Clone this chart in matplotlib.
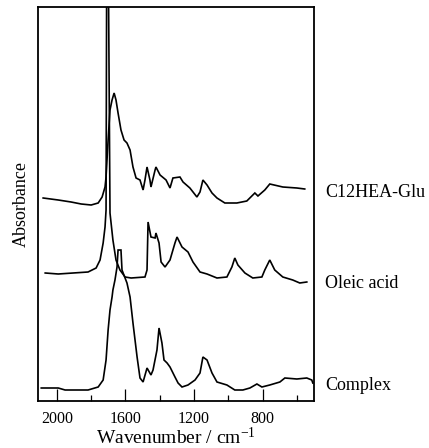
import matplotlib
matplotlib.use("Agg")
import matplotlib.pyplot as plt
import matplotlib.transforms as mtransforms
from matplotlib.ticker import FixedLocator

plt.rcParams['font.family'] = ['Liberation Serif', 'DejaVu Serif']
plt.rcParams['mathtext.fontset'] = 'custom'
plt.rcParams['mathtext.rm'] = 'Liberation Serif'
plt.rcParams['mathtext.default'] = 'regular'

# ---- data (wavenumber / cm-1, absorbance in arbitrary offset units) ----
c12_wn = [2080, 1992, 1917, 1858, 1800, 1759, 1736, 1719, 1713, 1701, 1690, 1678,
          1666, 1655, 1643, 1626, 1608, 1591, 1573, 1556, 1538, 1515, 1497, 1486,
          1474, 1457, 1451, 1427, 1422, 1398, 1363, 1340, 1323, 1282, 1264, 1224,
          1183, 1165, 1148, 1124, 1095, 1066, 1020, 950, 892, 845, 827, 787, 758,
          682, 600, 554]
c12_ab = [203, 201, 199, 197, 196, 198, 204, 214, 224, 261, 291, 301,
          308, 301, 288, 271, 261, 258, 251, 234, 223, 221, 211, 221,
          234, 221, 214, 231, 234, 226, 221, 213, 223, 224, 219, 213,
          204, 209, 221, 216, 208, 203, 198, 198, 200, 208, 205, 211, 217,
          214, 213, 212]

oleic_wn = [2068, 1992, 1818, 1771, 1748, 1730, 1719, 1713, 1708, 1703, 1690, 1673,
            1655, 1632, 1602, 1567, 1486, 1474, 1468, 1451, 1427, 1422, 1404, 1392,
            1369, 1340, 1311, 1299, 1270, 1235, 1206, 1165, 1124, 1066, 1008, 979,
            962, 944, 903, 857, 804, 787, 758, 729, 682, 624, 583, 542]
oleic_ab = [128, 127, 129, 133, 141, 158, 174, 191, 520, 520, 188, 161,
            141, 131, 124, 123, 124, 131, 179, 164, 163, 168, 158, 139,
            134, 141, 158, 164, 154, 149, 139, 129, 127, 123, 124, 134,
            143, 136, 128, 123, 124, 131, 141, 131, 124, 121, 118, 119]

complex_wn = [2091, 1992, 1952, 1818, 1759, 1730, 1713, 1701, 1690, 1678, 1673, 1661,
              1649, 1643, 1626, 1620, 1591, 1573, 1556, 1532, 1515, 1497, 1474, 1451,
              1439, 1416, 1404, 1387, 1375, 1357, 1340, 1311, 1293, 1270, 1235, 1194,
              1165, 1148, 1124, 1095, 1066, 1008, 962, 915, 874, 833, 804, 758, 699,
              670, 600, 542, 513, 507]
complex_ab = [13, 13, 11, 11, 14, 21, 41, 71, 91, 104, 111, 121,
              134, 151, 151, 131, 118, 104, 78, 44, 23, 19, 33, 26,
              31, 51, 73, 58, 41, 38, 34, 24, 18, 14, 16, 21,
              28, 44, 41, 28, 19, 16, 11, 11, 13, 17, 14, 16, 19,
              23, 22, 23, 21, 18]

labels = ["C12HEA-Glu", "Oleic acid", "Complex"]
label_y = [209, 118, 16]

major_ticks = [2000, 1600, 1200, 800]
minor_ticks = [1800, 1400, 1000, 600]

# ---- figure ----
fig = plt.figure(figsize=(4.29, 4.48), dpi=100)
ax = fig.add_axes([38/429, 1 - 401/448, 276/429, 394/448])

for wn, ab in [(c12_wn, c12_ab), (oleic_wn, oleic_ab), (complex_wn, complex_ab)]:
    ax.plot(wn, ab, color='black', lw=1.2, solid_joinstyle='miter')

ax.set_xlim(2110, 500)
ax.set_ylim(0, 394)

ax.xaxis.set_major_locator(FixedLocator(major_ticks))
ax.xaxis.set_minor_locator(FixedLocator(minor_ticks))
ax.tick_params(axis='x', which='major', direction='in', length=8.5, width=0.9,
               labelsize=11.5, pad=7, top=False)
ax.tick_params(axis='x', which='minor', direction='in', length=4.3, width=0.9, top=False)
ax.set_yticks([])

for s in ax.spines.values():
    s.set_linewidth(1.3)
    s.set_color('black')

ax.set_xlabel("Wavenumber / cm$^{-1}$", fontsize=14, labelpad=0)
ax.set_ylabel("Absorbance", fontsize=13, labelpad=6)

trans = mtransforms.blended_transform_factory(ax.transAxes, ax.transData)
for lab, yy in zip(labels, label_y):
    ax.text(1.04, yy, lab, transform=trans, ha='left', va='center', fontsize=13,
            clip_on=False)

fig.savefig("out.png", dpi=100)
